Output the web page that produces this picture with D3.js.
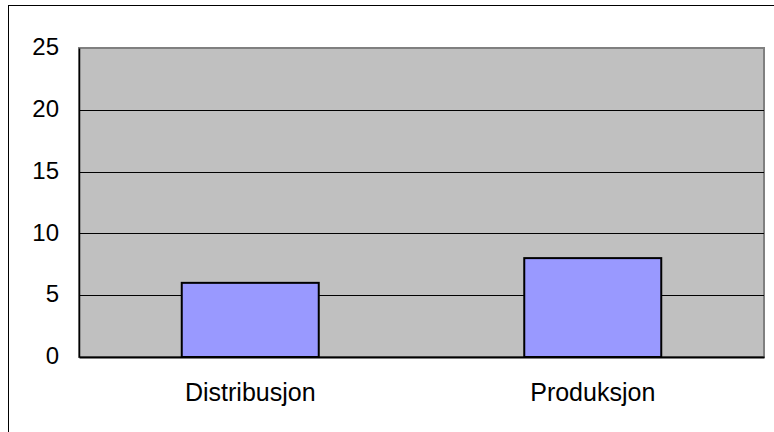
<!DOCTYPE html>
<html>
<head>
<meta charset="utf-8">
<script src="https://cdn.jsdelivr.net/npm/d3@7"></script>
<style>
  body { margin: 0; background: #fff; }
  text { font-family: "Liberation Sans", Arial, sans-serif; }
</style>
</head>
<body>
<svg id="chart"></svg>
<script>
const categories = ['Distribusjon', 'Produksjon'];
const values = [6, 8];
const yTicks = [0, 5, 10, 15, 20, 25];

const width = 774, height = 432;
const margin = {top: 48, right: 10, bottom: 75, left: 79};
const plotW = 764 - margin.left;
const plotH = 357 - margin.top;

const svg = d3.select('#chart')
  .attr('width', width)
  .attr('height', height);

// outer frame
svg.append('rect')
  .attr('x', 8.5).attr('y', 5.5)
  .attr('width', 800).attr('height', 500)
  .attr('fill', '#fff')
  .attr('stroke', '#000')
  .attr('stroke-width', 1);

const g = svg.append('g')
  .attr('transform', `translate(${margin.left},${margin.top})`);

const x = d3.scaleBand()
  .domain(categories)
  .range([0, plotW])
  .paddingInner(0.6)
  .paddingOuter(0.3);

const y = d3.scaleLinear()
  .domain([0, 25])
  .range([plotH, 0]);

// plot area
g.append('rect')
  .attr('width', plotW).attr('height', plotH)
  .attr('fill', '#c0c0c0')
  .attr('stroke', '#808080')
  .attr('stroke-width', 2);

// gridlines
g.append('g')
  .selectAll('line')
  .data(yTicks.filter(d => d > 0 && d < 25))
  .join('line')
    .attr('x1', 0).attr('x2', plotW)
    .attr('y1', d => Math.round(y(d)) + 0.5)
    .attr('y2', d => Math.round(y(d)) + 0.5)
    .attr('stroke', '#000')
    .attr('stroke-width', 1);

// y axis
const yAxis = g.append('g')
  .call(d3.axisLeft(y).tickValues(yTicks).tickSize(0).tickPadding(20));
yAxis.select('.domain').attr('stroke', '#000').attr('stroke-width', 1.5);
yAxis.selectAll('text')
  .attr('font-size', 24)
  .attr('fill', '#000')
  .attr('dy', '0.28em')
  .attr('font-family', '"Liberation Sans", Arial, sans-serif');

// bars
g.append('g')
  .selectAll('rect')
  .data(values)
  .join('rect')
    .attr('x', (d, i) => x(categories[i]))
    .attr('y', d => y(d))
    .attr('width', x.bandwidth())
    .attr('height', d => y(0) - y(d))
    .attr('fill', '#9999ff')
    .attr('stroke', '#000')
    .attr('stroke-width', 2);

// x axis
const xAxis = g.append('g')
  .attr('transform', `translate(0,${plotH})`)
  .call(d3.axisBottom(x).tickSize(0).tickPadding(26));
xAxis.select('.domain').attr('stroke', '#000').attr('stroke-width', 2);
xAxis.selectAll('text')
  .attr('font-size', 25)
  .attr('fill', '#000')
  .attr('font-family', '"Liberation Sans", Arial, sans-serif');
</script>
</body>
</html>
